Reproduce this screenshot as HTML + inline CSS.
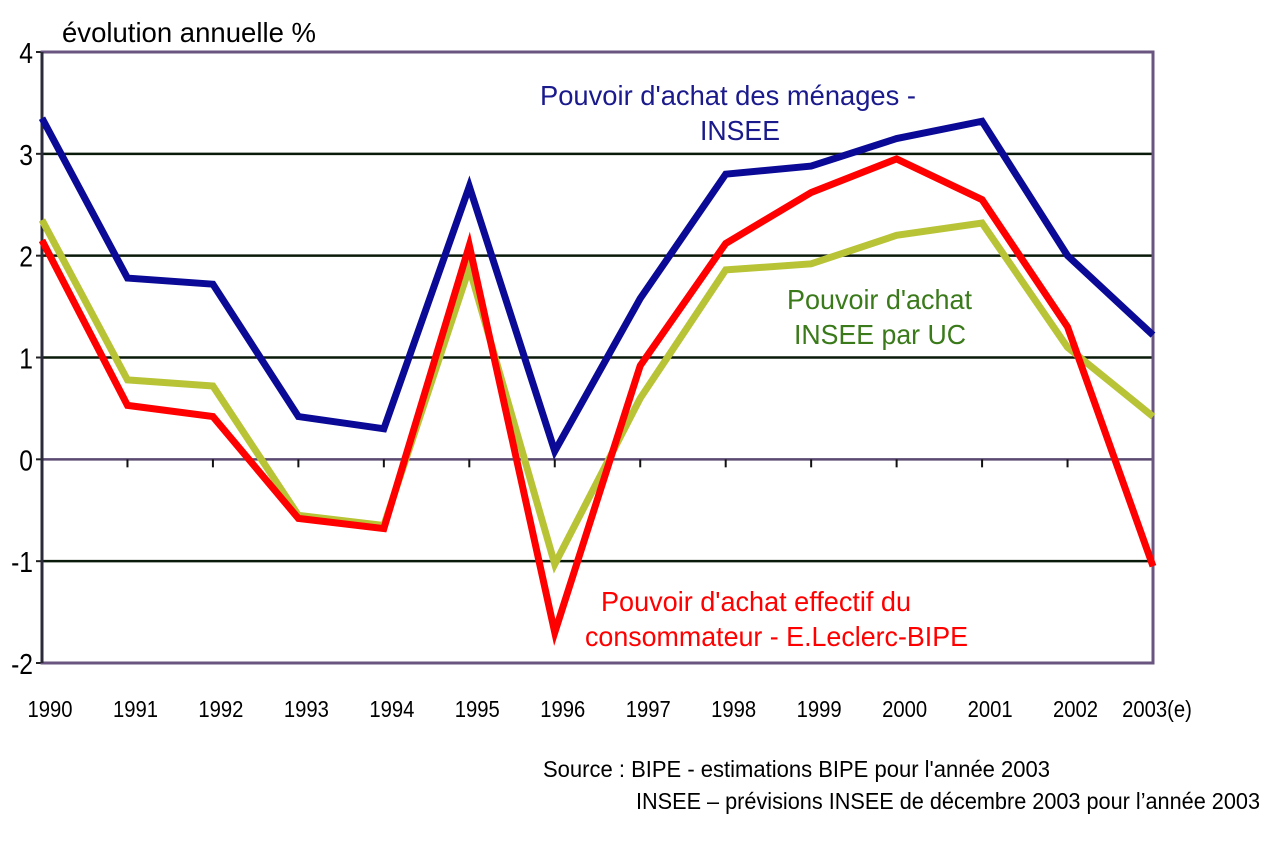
<!DOCTYPE html>
<html><head><meta charset="utf-8"><style>
body{margin:0;background:#fff;}
svg text{font-family:"Liberation Sans",sans-serif;}
</style></head><body>
<svg width="1279" height="837" viewBox="0 0 1279 837">
<g id="grid"></g>
<g id="series"></g>
<text x="62" y="42" font-size="28" fill="#000" textLength="254" lengthAdjust="spacingAndGlyphs">évolution annuelle  %</text>
<text x="540" y="105" font-size="28" fill="#1a1a8c" textLength="376" lengthAdjust="spacingAndGlyphs">Pouvoir d'achat des ménages -</text>
<text x="700" y="140" font-size="28" fill="#1a1a8c" textLength="80" lengthAdjust="spacingAndGlyphs">INSEE</text>
<text x="787" y="309" font-size="28" fill="#3a7a1a" textLength="185" lengthAdjust="spacingAndGlyphs">Pouvoir d'achat</text>
<text x="794" y="344" font-size="28" fill="#3a7a1a" textLength="172" lengthAdjust="spacingAndGlyphs">INSEE par UC</text>
<text x="601" y="611" font-size="28" fill="#ff0000" textLength="310" lengthAdjust="spacingAndGlyphs">Pouvoir d'achat effectif du</text>
<text x="585" y="646" font-size="28" fill="#ff0000" textLength="383" lengthAdjust="spacingAndGlyphs">consommateur - E.Leclerc-BIPE</text>
<text x="543" y="777" font-size="23" fill="#000" textLength="507" lengthAdjust="spacingAndGlyphs">Source :  BIPE - estimations BIPE pour l'année 2003</text>
<text x="636" y="809" font-size="23" fill="#000" textLength="624" lengthAdjust="spacingAndGlyphs">INSEE – prévisions INSEE de décembre 2003 pour l’année 2003</text>
</svg>
<script>
const years=["1990","1991","1992","1993","1994","1995","1996","1997","1998","1999","2000","2001","2002","2003(e)"];
const yTicks=[4,3,2,1,0,-1,-2];
const blueVals=[3.35,1.78,1.72,0.42,0.3,2.68,0.08,1.58,2.8,2.88,3.15,3.32,2.0,1.22];
const redVals=[2.15,0.53,0.42,-0.58,-0.68,2.1,-1.7,0.92,2.12,2.62,2.95,2.55,1.3,-1.05];
const greenVals=[2.35,0.78,0.72,-0.55,-0.65,1.88,-1.03,0.6,1.86,1.92,2.2,2.32,1.1,0.42];
const NS="http://www.w3.org/2000/svg";
const L=42,R=1153,T=52,B=663,ymax=4,ymin=-2;
const x=i=>L+(R-L)*i/(years.length-1);
const y=v=>T+(ymax-v)*(B-T)/(ymax-ymin);
function mk(tag,attrs,parent){const e=document.createElementNS(NS,tag);for(const k in attrs)e.setAttribute(k,attrs[k]);parent.appendChild(e);return e;}
const g=document.getElementById('grid');
yTicks.forEach(v=>{
  if(v!==ymax&&v!==ymin&&v!==0){const l=mk('line',{x1:L,x2:R,y1:y(v),y2:y(v),stroke:'#0a1a0a','stroke-width':2.5},g);
  
  }
  mk('line',{x1:L-6,x2:L,y1:y(v),y2:y(v),stroke:'#222','stroke-width':2},g);
  const t=mk('text',{x:L-9,y:y(v)+11,'font-size':29,'text-anchor':'end',fill:'#000',transform:'translate('+(L-9)+',0) scale(0.85,1) translate('+(-(L-9))+',0)'},g);
  t.textContent=v;
  
  
});
const z=mk('line',{x1:L,x2:R,y1:y(0),y2:y(0),stroke:'#5a4a70','stroke-width':2.5},g);


years.forEach((yr,i)=>{
  if(i>0)mk('line',{x1:x(i),x2:x(i),y1:y(0),y2:y(0)+8,stroke:'#111','stroke-width':2},g);
  const cx=x(i)+(i===years.length-1?4:8);
  const t=mk('text',{x:cx,y:717,'font-size':23,'text-anchor':'middle',fill:'#000',transform:'translate('+cx+',0) scale(0.88,1) translate('+(-cx)+',0)'},g);
  t.textContent=yr;
  
  
});
const fr=mk('rect',{x:L,y:T,width:R-L,height:B-T,fill:'none',stroke:'#6a5580','stroke-width':3},g);


mk('line',{x1:L,x2:L,y1:T,y2:B,stroke:'#2a2a3a','stroke-width':3},g);
const s=document.getElementById('series');
[[greenVals,'#b8c436','series-green'],[redVals,'#ff0000','series-red'],[blueVals,'#0a0a96','series-blue']].forEach(([vals,c,n])=>{
  const p=mk('polyline',{points:vals.map((v,i)=>x(i)+','+y(v)).join(' '),fill:'none',stroke:c,'stroke-width':7,'stroke-linejoin':'miter'},s);
  
  
});
</script>
</body></html>
